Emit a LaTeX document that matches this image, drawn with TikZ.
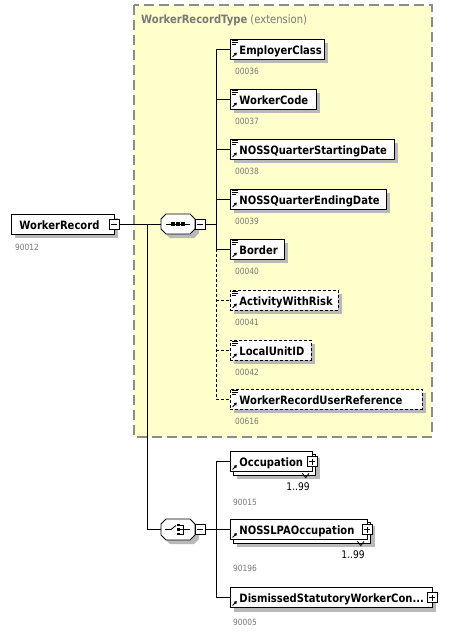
\documentclass[tikz,border=0pt]{standalone}
\usepackage{fontspec}
\setmainfont{DejaVu Sans}[FakeStretch=0.87]
\usetikzlibrary{shadows,arrows.meta,backgrounds,calc}
\definecolor{ybg}{RGB}{255,255,204}
\definecolor{ybd}{RGB}{140,140,140}
\definecolor{shadowgray}{RGB}{185,185,185}
\definecolor{lblgray}{RGB}{120,120,120}
\newcommand\elfont{\fontsize{11.5}{13}\selectfont}
\newcommand\typeicon[1]{%
  \draw[line width=0.6pt] ([shift={(2,1.8)}]#1.north west) -- ++(6,0)
    ([shift={(2,3.8)}]#1.north west) -- ++(6,0)
    ([shift={(2,5.8)}]#1.north west) -- ++(4,0);}
\newcommand\refarrow[1]{%
  \draw[line width=0.8pt,-{Triangle[length=2.6pt,width=3.2pt]}] ([shift={(2.5,-2.5)}]#1.south west) -- ++(4.3,-4.3);}
\newcommand\minusmark[1]{\draw[line width=0.8pt] ([xshift=-3pt]#1.center) -- ([xshift=3pt]#1.center);}
\newcommand\plusmark[1]{\draw[line width=0.8pt] ([xshift=-3pt]#1.center) -- ([xshift=3pt]#1.center) ([yshift=-3pt]#1.center) -- ([yshift=3pt]#1.center);}
% octagon outline around a node, drawn with shadow
\newcommand\octpath[2]{($(#1.north west)+(5,0)+(#2)$) -- ($(#1.north east)+(-5,0)+(#2)$) -- ($(#1.north east)+(0,5)+(#2)$) --
  ($(#1.south east)+(0,-5)+(#2)$) -- ($(#1.south east)+(-5,0)+(#2)$) -- ($(#1.south west)+(5,0)+(#2)$) --
  ($(#1.south west)+(0,-5)+(#2)$) -- ($(#1.north west)+(0,5)+(#2)$) -- cycle}
\newcommand\octagon[1]{%
  \fill[shadowgray] \octpath{#1}{4,4};
  \draw[line width=0.9pt,fill=white] \octpath{#1}{0,0};}
\begin{document}
\begin{tikzpicture}[x=1pt,y=-1pt,
  shadowed/.style={drop shadow={shadow xshift=4pt,shadow yshift=-4pt,fill=shadowgray,opacity=1}},
  elbox/.style={draw=black,line width=0.9pt,fill=white,inner sep=0pt,minimum height=20pt,
     anchor=west,font=\elfont\bfseries,text height=11pt,text depth=0.5pt},
  opt/.style={dash pattern=on 3pt off 2pt},
  pm/.style={draw=black,fill=white,line width=0.8pt,minimum size=10pt,inner sep=0pt},
  lbl/.style={font=\fontsize{8.6}{10}\selectfont,text=lblgray,anchor=base west,inner sep=0pt},
  mult/.style={font=\fontsize{10.5}{12}\selectfont,anchor=base east,inner sep=0pt},
  compositor/.style={rectangle,draw=none,minimum width=34pt,inner sep=0pt,outer sep=0pt},
  conn/.style={line width=0.9pt}]
\useasboundingbox (0,0) rectangle (459,632);
% extension area
\path[fill=ybg,draw=ybd,line width=1.4pt,dash pattern=on 10pt off 5pt] (134,5) rectangle (432,437);
\node[anchor=base west,inner sep=0pt,text=lblgray,font=\elfont] (title) at (141,23.3)
  {\textbf{WorkerRecordType} (extension)};

% root
\node[elbox,shadowed] (root) at (11,224) {\makebox[103pt][l]{\hspace{8pt}WorkerRecord}};
\node[pm] (rootm) at ([xshift=-1pt]root.east) {};
\minusmark{rootm}
\node[lbl] (rootl) at (15,250) {90012};

% sequence
\node[compositor,minimum height=20pt] (seq) at (178,224) {};
\octagon{seq}
\node[pm,anchor=west] (seqm) at (seq.east) {};
\minusmark{seqm}
\draw[line width=0.9pt] ([xshift=-12pt]seq.center) -- ([xshift=12pt]seq.center);
\foreach \dx in {-5,0,5} \fill ([xshift=\dx pt]seq.center) ++(-1.6,-1.6) rectangle ++(3.2,3.2);

% choice
\node[compositor,minimum height=21pt] (cho) at (178,529.5) {};
\octagon{cho}
\node[pm,anchor=west] (chom) at (cho.east) {};
\minusmark{chom}
\draw[line width=0.9pt] ($(cho.center)+(-13,0)$) -- ($(cho.center)+(-7,0)$) -- ($(cho.center)+(-2,-4)$);
\foreach \dy in {-4.5,0,4.5} \fill ($(cho.center)+(-0.8,\dy)$) ++(0,-1.3) rectangle ++(2.6,2.6);
\draw[line width=0.8pt] ($(cho.center)+(1.8,-4.5)$) -- ($(cho.center)+(5,-4.5)$) -- ($(cho.center)+(5,4.5)$) -- ($(cho.center)+(1.8,4.5)$)
  ($(cho.center)+(1.8,0)$) -- ($(cho.center)+(12,0)$);

% sequence children
\node[elbox,shadowed] (ec) at (230,49) {\makebox[94pt][l]{\hspace{9pt}EmployerClass}};
\node[elbox,shadowed] (wc) at (230,99) {\makebox[86pt][l]{\hspace{9pt}WorkerCode}};
\node[elbox,shadowed] (qs) at (230,149) {\makebox[164pt][l]{\hspace{9pt}NOSSQuarterStartingDate}};
\node[elbox,shadowed] (qe) at (230,199) {\makebox[156pt][l]{\hspace{9pt}NOSSQuarterEndingDate}};
\node[elbox,shadowed] (bo) at (230,249) {\makebox[54pt][l]{\hspace{9pt}Border}};
\node[elbox,opt,shadowed] (aw) at (230,300) {\makebox[108pt][l]{\hspace{9pt}ActivityWithRisk}};
\node[elbox,opt,shadowed] (lu) at (230,350) {\makebox[81pt][l]{\hspace{9pt}LocalUnitID}};
\node[elbox,opt,shadowed] (wr) at (230,399) {\makebox[192pt][l]{\hspace{9pt}WorkerRecordUserReference}};
\foreach \n in {ec,wc,qs,qe,bo,aw,lu,wr} {\typeicon{\n}\refarrow{\n}}
\node[lbl] (ecl) at (235,74.5) {00036};
\node[lbl] (wcl) at (235,124.5) {00037};
\node[lbl] (qsl) at (235,174.5) {00038};
\node[lbl] (qel) at (235,224.5) {00039};
\node[lbl] (bol) at (235,274.5) {00040};
\node[lbl] (awl) at (235,325.5) {00041};
\node[lbl] (lul) at (235,375.5) {00042};
\node[lbl] (wrl) at (235,424.5) {00616};

% choice children
\node[elbox] (occ) at (230,461.5) {\makebox[82pt][l]{\hspace{9pt}Occupation}};
\node[elbox] (lpa) at (230,529.5) {\makebox[137pt][l]{\hspace{9pt}NOSSLPAOccupation}};
\node[elbox,shadowed] (dis) at (230,597.5) {\makebox[202pt][l]{\hspace{9pt}DismissedStatutoryWorkerCon...}};
\begin{scope}[on background layer]
\foreach \n in {occ,lpa} {
  \fill[shadowgray] ([shift={(7,7)}]\n.north west) rectangle ([shift={(7,7)}]\n.south east);
  \draw[fill=white,line width=0.9pt] ([shift={(3,3)}]\n.north west) rectangle ([shift={(3,3)}]\n.south east);
}
\end{scope}
\foreach \n in {occ,lpa,dis} {\refarrow{\n}}
\node[pm] (occp) at ([xshift=-1pt]occ.east) {};
\node[pm] (lpap) at ([xshift=-1pt]lpa.east) {};
\node[pm] (disp) at ([xshift=-1pt]dis.east) {};
\plusmark{occp}\plusmark{lpap}\plusmark{disp}
\foreach \n in {occ,lpa} {
  \draw[line width=0.8pt] ($(\n.south east)+(-10.5,1.3)$) -- ++(3.3,4.4) -- ++(3.3,-4.4);
}
\node[mult] (occmul) at ($(occ.south east)+(-3,18.5)$) {1..99};
\node[mult] (lpamul) at ($(lpa.south east)+(-3,18.5)$) {1..99};
\node[lbl] (occl) at (233,505) {90015};
\node[lbl] (lpal) at (233,571.5) {90196};
\node[lbl] (disl) at (233,625) {90005};

% connectors
\coordinate (j1) at (147,224);
\coordinate (t1) at (216,224);
\coordinate (t2) at (216,529.5);
\draw[conn] (rootm.east) -- (seq.west);
\draw[conn] (j1) |- (cho.west);
\draw[conn] (seqm.east) -- (t1);
\draw[conn] (t1 |- ec.west) -- (t1 |- bo.west);
\draw[conn,opt] (t1 |- bo.west) -- (t1 |- wr.west);
\foreach \n in {ec,wc,qs,qe,bo} \draw[conn] (t1 |- \n.west) -- (\n.west);
\foreach \n in {aw,lu,wr} \draw[conn,opt] (t1 |- \n.west) -- (\n.west);
\draw[conn] (chom.east) -- (t2);
\draw[conn] (t2 |- occ.west) -- (t2 |- dis.west);
\foreach \n in {occ,lpa,dis} \draw[conn] (t2 |- \n.west) -- (\n.west);
\end{tikzpicture}
\end{document}
